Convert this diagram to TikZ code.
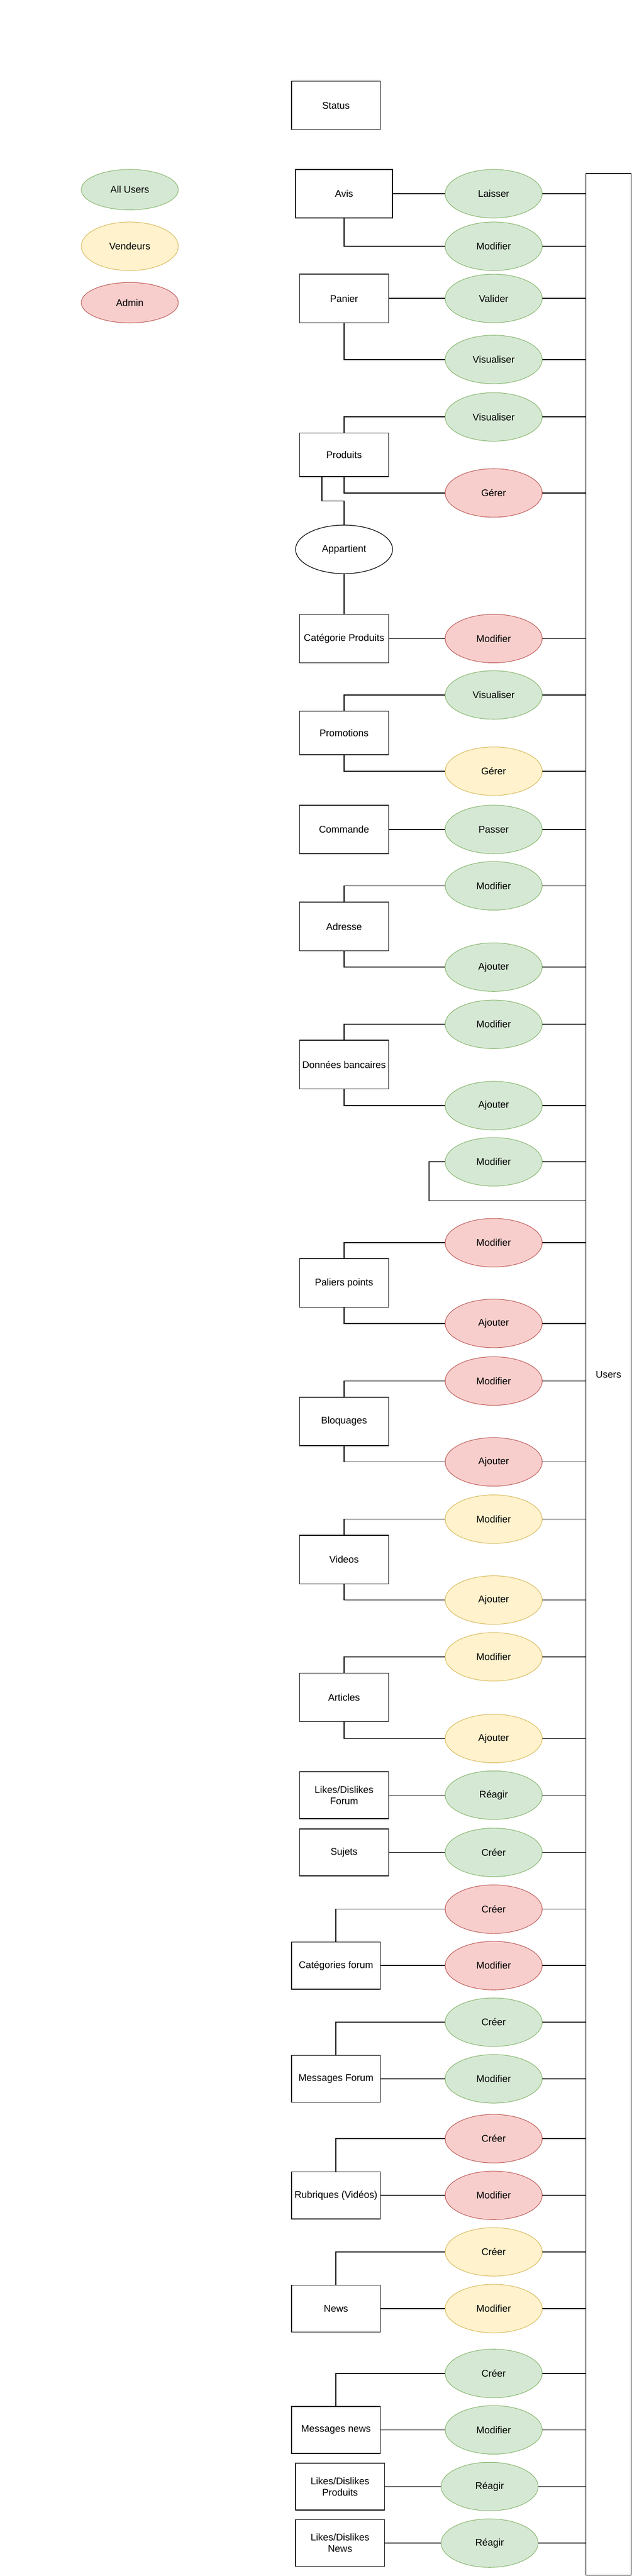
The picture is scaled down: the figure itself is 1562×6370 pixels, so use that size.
\documentclass[tikz,border=0pt]{standalone}
\usepackage{fontspec}
\setmainfont{Liberation Sans}
\usetikzlibrary{shapes.geometric}

\definecolor{vertfond}{HTML}{D5E8D4}
\definecolor{vertbord}{HTML}{82B366}
\definecolor{jaunefond}{HTML}{FFF2CC}
\definecolor{jaunebord}{HTML}{D6B656}
\definecolor{rougefond}{HTML}{F8CECC}
\definecolor{rougebord}{HTML}{B85450}

\tikzset{
  entite/.style={draw,line width=2pt,rectangle,minimum width=220pt,minimum height=120pt,
    inner sep=0pt,align=center,font=\fontsize{24}{28}\selectfont},
  action/.style={ellipse,line width=1.3pt,minimum width=240pt,minimum height=120pt,
    inner sep=0pt,font=\fontsize{24}{28}\selectfont},
  tous/.style={action,draw=vertbord,fill=vertfond},
  vend/.style={action,draw=jaunebord,fill=jaunefond},
  adm/.style={action,draw=rougebord,fill=rougefond},
  lien/.style={line width=2pt}
}

\begin{document}
\begin{tikzpicture}[x=1pt,y=-1pt]
  \useasboundingbox (0,0) rectangle (1562,6370);

  % legende
  \node[tous,minimum height=100pt] at (321,469) (allusers) {All Users};
  \node[vend] at (321,609) (vendeurs) {Vendeurs};
  \node[adm,minimum height=100pt] at (321,748.5) (admin) {Admin};

  % entites
  \node[entite] at (831,260.6) (status) {Status};
  \node[entite,minimum width=240pt] at (851,479) (avis) {Avis};
  \node[entite] at (851,738) (panier) {Panier};
  \node[entite,minimum height=108pt] at (851,1124.6) (produits) {Produits};
  \node[action,draw=black,line width=1.6pt] at (851,1358.5) (appartient) {Appartient};
  \node[entite] at (851,1579) (catprod) {Catégorie Produits};
  \node[entite,minimum height=108pt] at (851,1812.7) (promos) {Promotions};
  \node[entite] at (851,2051) (commande) {Commande};
  \node[entite] at (851,2291) (adresse) {Adresse};
  \node[entite] at (851,2632.5) (banque) {Données bancaires};
  \node[entite] at (851,3172.6) (paliers) {Paliers points};
  \node[entite] at (851,3515) (bloquages) {Bloquages};
  \node[entite] at (851,3856.6) (videos) {Videos};
  \node[entite] at (851,4197) (articles) {Articles};
  \node[entite,minimum height=116pt] at (851,4439) (ldforum) {Likes/Dislikes\\Forum};
  \node[entite,minimum height=116pt] at (851,4580.6) (sujets) {Sujets};
  \node[entite,minimum height=116pt] at (831,4860.5) (catforum) {Catégories forum};
  \node[entite,minimum height=116pt] at (831,5140.5) (msgforum) {Messages Forum};
  \node[entite,minimum height=116pt] at (831,5428.7) (rubriques) {Rubriques (Vidéos)};
  \node[entite,minimum height=116pt] at (831,5708.7) (news) {News};
  \node[entite,minimum height=116pt] at (831,6008.6) (msgnews) {Messages news};
  \node[entite,minimum height=116pt] at (841,6148.7) (ldprod) {Likes/Dislikes\\Produits};
  \node[entite,minimum height=116pt] at (841,6288.6) (ldnews) {Likes/Dislikes\\News};
  \node[entite,minimum width=112pt,minimum height=5939pt] at (1505,3398.5) (users) {Users};

  % actions
  \node[tous] at (1221,479) (e1) {Laisser};
  \node[tous] at (1221,609) (e2) {Modifier};
  \node[tous] at (1221,738) (e3) {Valider};
  \node[tous] at (1221,889) (e4) {Visualiser};
  \node[tous] at (1221,1031) (e5) {Visualiser};
  \node[adm] at (1221,1219) (e6) {Gérer};
  \node[adm] at (1221,1579) (e7) {Modifier};
  \node[tous] at (1221,1718.5) (e8) {Visualiser};
  \node[vend] at (1221,1907) (e9) {Gérer};
  \node[tous] at (1221,2051) (e10) {Passer};
  \node[tous] at (1221,2190.5) (e11) {Modifier};
  \node[tous] at (1221,2391.5) (e12) {Ajouter};
  \node[tous] at (1221,2533) (e13) {Modifier};
  \node[tous] at (1221,2734) (e14) {Ajouter};
  \node[tous] at (1221,2873) (e15) {Modifier};
  \node[adm] at (1221,3073) (e16) {Modifier};
  \node[adm] at (1221,3272.6) (e17) {Ajouter};
  \node[adm] at (1221,3415) (e18) {Modifier};
  \node[adm] at (1221,3615) (e19) {Ajouter};
  \node[vend] at (1221,3756.6) (e20) {Modifier};
  \node[vend] at (1221,3956.6) (e21) {Ajouter};
  \node[vend] at (1221,4097) (e22) {Modifier};
  \node[vend] at (1221,4299) (e23) {Ajouter};
  \node[tous] at (1221,4439) (e24) {Réagir};
  \node[tous] at (1221,4580.6) (e25) {Créer};
  \node[adm] at (1221,4721) (e26) {Créer};
  \node[adm] at (1221,4860.5) (e27) {Modifier};
  \node[tous] at (1221,5000.5) (e28) {Créer};
  \node[tous] at (1221,5140.5) (e29) {Modifier};
  \node[adm] at (1221,5288.5) (e30) {Créer};
  \node[adm] at (1221,5428.7) (e31) {Modifier};
  \node[vend] at (1221,5568.5) (e32) {Créer};
  \node[vend] at (1221,5708.7) (e33) {Modifier};
  \node[tous] at (1221,5869) (e34) {Créer};
  \node[tous] at (1221,6008.6) (e35) {Modifier};
  \node[tous] at (1211,6148.7) (e36) {Réagir};
  \node[tous] at (1211,6288.6) (e37) {Réagir};

  \coordinate (coude) at (851,1239);
  \coordinate (boucle) at (1061,2969);

  % entites -> actions
  \draw[lien] (avis) -- (e1);
  \draw[lien] (avis.south) |- (e2.west);
  \draw[lien] (panier) -- (e3);
  \draw[lien] (panier.south) |- (e4.west);
  \draw[lien] (produits.north) |- (e5.west);
  \draw[lien] (produits.south) |- (e6.west);
  \draw[lien] ([xshift=-55pt]produits.south) |- (coude) -- (appartient.north);
  \draw[lien] (appartient) -- (catprod);
  \draw[lien] (catprod) -- (e7);
  \draw[lien] (promos.north) |- (e8.west);
  \draw[lien] (promos.south) |- (e9.west);
  \draw[lien] (commande) -- (e10);
  \draw[lien] (adresse.north) |- (e11.west);
  \draw[lien] (adresse.south) |- (e12.west);
  \draw[lien] (banque.north) |- (e13.west);
  \draw[lien] (banque.south) |- (e14.west);
  \draw[lien] (e15.west) -| (boucle) -- (boucle -| users.west);
  \draw[lien] (paliers.north) |- (e16.west);
  \draw[lien] (paliers.south) |- (e17.west);
  \draw[lien] (bloquages.north) |- (e18.west);
  \draw[lien] (bloquages.south) |- (e19.west);
  \draw[lien] (videos.north) |- (e20.west);
  \draw[lien] (videos.south) |- (e21.west);
  \draw[lien] (articles.north) |- (e22.west);
  \draw[lien] (articles.south) |- (e23.west);
  \draw[lien] (ldforum) -- (e24);
  \draw[lien] (sujets) -- (e25);
  \draw[lien] (catforum.north) |- (e26.west);
  \draw[lien] (catforum) -- (e27);
  \draw[lien] (msgforum.north) |- (e28.west);
  \draw[lien] (msgforum) -- (e29);
  \draw[lien] (rubriques.north) |- (e30.west);
  \draw[lien] (rubriques) -- (e31);
  \draw[lien] (news.north) |- (e32.west);
  \draw[lien] (news) -- (e33);
  \draw[lien] (msgnews.north) |- (e34.west);
  \draw[lien] (msgnews) -- (e35);
  \draw[lien] (ldprod) -- (e36);
  \draw[lien] (ldnews) -- (e37);

  % actions -> users
  \draw[lien] (e1.east) -- (e1.east -| users.west);
  \draw[lien] (e2.east) -- (e2.east -| users.west);
  \draw[lien] (e3.east) -- (e3.east -| users.west);
  \draw[lien] (e4.east) -- (e4.east -| users.west);
  \draw[lien] (e5.east) -- (e5.east -| users.west);
  \draw[lien] (e6.east) -- (e6.east -| users.west);
  \draw[lien] (e7.east) -- (e7.east -| users.west);
  \draw[lien] (e8.east) -- (e8.east -| users.west);
  \draw[lien] (e9.east) -- (e9.east -| users.west);
  \draw[lien] (e10.east) -- (e10.east -| users.west);
  \draw[lien] (e11.east) -- (e11.east -| users.west);
  \draw[lien] (e12.east) -- (e12.east -| users.west);
  \draw[lien] (e13.east) -- (e13.east -| users.west);
  \draw[lien] (e14.east) -- (e14.east -| users.west);
  \draw[lien] (e15.east) -- (e15.east -| users.west);
  \draw[lien] (e16.east) -- (e16.east -| users.west);
  \draw[lien] (e17.east) -- (e17.east -| users.west);
  \draw[lien] (e18.east) -- (e18.east -| users.west);
  \draw[lien] (e19.east) -- (e19.east -| users.west);
  \draw[lien] (e20.east) -- (e20.east -| users.west);
  \draw[lien] (e21.east) -- (e21.east -| users.west);
  \draw[lien] (e22.east) -- (e22.east -| users.west);
  \draw[lien] (e23.east) -- (e23.east -| users.west);
  \draw[lien] (e24.east) -- (e24.east -| users.west);
  \draw[lien] (e25.east) -- (e25.east -| users.west);
  \draw[lien] (e26.east) -- (e26.east -| users.west);
  \draw[lien] (e27.east) -- (e27.east -| users.west);
  \draw[lien] (e28.east) -- (e28.east -| users.west);
  \draw[lien] (e29.east) -- (e29.east -| users.west);
  \draw[lien] (e30.east) -- (e30.east -| users.west);
  \draw[lien] (e31.east) -- (e31.east -| users.west);
  \draw[lien] (e32.east) -- (e32.east -| users.west);
  \draw[lien] (e33.east) -- (e33.east -| users.west);
  \draw[lien] (e34.east) -- (e34.east -| users.west);
  \draw[lien] (e35.east) -- (e35.east -| users.west);
  \draw[lien] (e36.east) -- (e36.east -| users.west);
  \draw[lien] (e37.east) -- (e37.east -| users.west);
\end{tikzpicture}
\end{document}
